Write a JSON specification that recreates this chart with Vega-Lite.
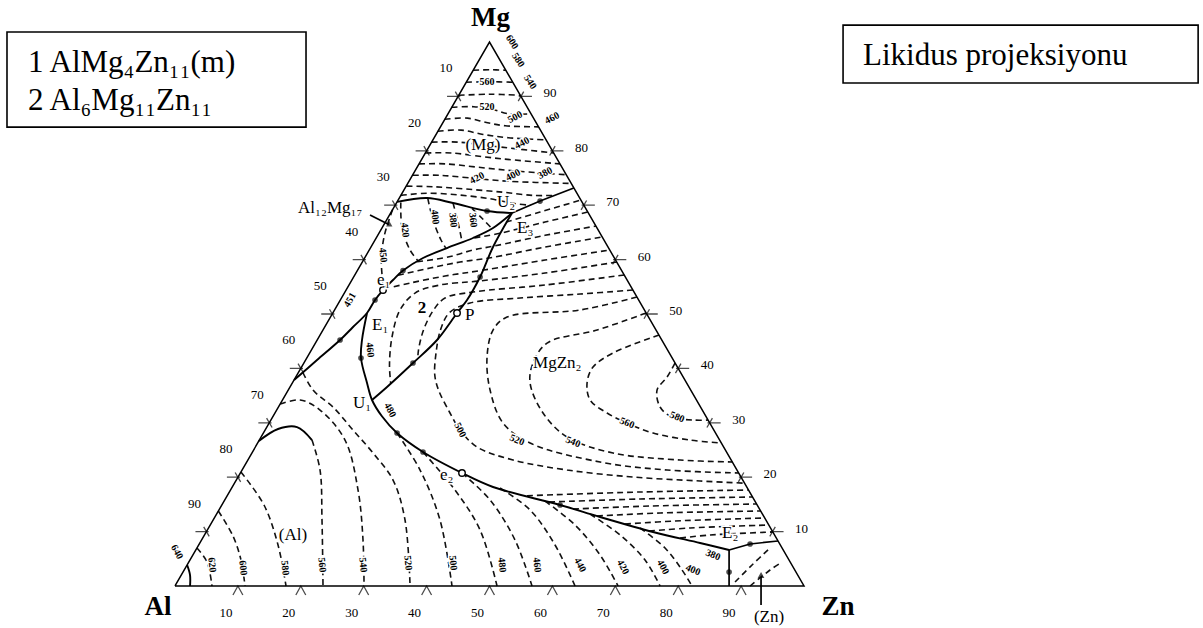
{
  "$schema": "https://vega.github.io/schema/vega-lite/v6.json",
  "width": 1203,
  "height": 628,
  "autosize": {"type": "fit", "contains": "padding"},
  "padding": 0,
  "background": "white",
  "config": {"view": {"stroke": null}, "text": {"font": "Liberation Serif", "color": "black"}},
  "encoding": {
    "x": {"field": "x", "type": "quantitative", "scale": {"domain": [-27.822, 163.434], "nice": false, "zero": false}, "axis": null},
    "y": {"field": "y", "type": "quantitative", "scale": {"domain": [-7.721, 107.721], "nice": false, "zero": false}, "axis": null}
  },
  "datasets": {
    "boxes": [
      {"x": -26.71, "x2": 20.83, "y": 101.83, "y2": 84.36},
      {"x": 106.21, "x2": 162.66, "y": 103.11, "y2": 92.45}
    ],
    "boxtext": [
      {"t": "1 AlMg₄Zn₁₁(m)", "x": -23.37, "y": 94.47},
      {"t": "2 Al₆Mg₁₁Zn₁₁", "x": -23.37, "y": 87.49},
      {"t": "Likidus projeksiyonu", "x": 109.39, "y": 95.76}
    ],
    "triangle": [
      {"i": 0, "x": 0, "y": 0}, {"i": 1, "x": 100, "y": 0}, {"i": 2, "x": 50, "y": 100}, {"i": 3, "x": 0, "y": 0}
    ],
    "vertices": [
      {"t": "Al", "x": 0, "y": 0, "p": "al"},
      {"t": "Zn", "x": 100, "y": 0, "p": "zn"},
      {"t": "Mg", "x": 50, "y": 100, "p": "mg"}
    ],
    "ticks": [
      {"s": "b", "t": "10", "x": 10, "y": 0}, {"s": "b", "t": "20", "x": 20, "y": 0}, {"s": "b", "t": "30", "x": 30, "y": 0},
      {"s": "b", "t": "40", "x": 40, "y": 0}, {"s": "b", "t": "50", "x": 50, "y": 0}, {"s": "b", "t": "60", "x": 60, "y": 0},
      {"s": "b", "t": "70", "x": 70, "y": 0}, {"s": "b", "t": "80", "x": 80, "y": 0}, {"s": "b", "t": "90", "x": 90, "y": 0},
      {"s": "l", "t": "10", "x": 45, "y": 90}, {"s": "l", "t": "20", "x": 40, "y": 80}, {"s": "l", "t": "30", "x": 35, "y": 70},
      {"s": "l", "t": "40", "x": 30, "y": 60}, {"s": "l", "t": "50", "x": 25, "y": 50}, {"s": "l", "t": "60", "x": 20, "y": 40},
      {"s": "l", "t": "70", "x": 15, "y": 30}, {"s": "l", "t": "80", "x": 10, "y": 20}, {"s": "l", "t": "90", "x": 5, "y": 10},
      {"s": "r", "t": "90", "x": 55, "y": 90}, {"s": "r", "t": "80", "x": 60, "y": 80}, {"s": "r", "t": "70", "x": 65, "y": 70},
      {"s": "r", "t": "60", "x": 70, "y": 60}, {"s": "r", "t": "50", "x": 75, "y": 50}, {"s": "r", "t": "40", "x": 80, "y": 40},
      {"s": "r", "t": "30", "x": 85, "y": 30}, {"s": "r", "t": "20", "x": 90, "y": 20}, {"s": "r", "t": "10", "x": 95, "y": 10}
    ],
    "solid": [
      {"c": "L1", "i": 0, "x": 35.3, "y": 70.6}, {"c": "L1", "i": 1, "x": 40.07, "y": 71.31}, {"c": "L1", "i": 2, "x": 44.2, "y": 70.4}, {"c": "L1", "i": 3, "x": 49.61, "y": 68.93}, {"c": "L1", "i": 4, "x": 53.58, "y": 68.56},
      {"c": "L3", "i": 0, "x": 53.58, "y": 68.56}, {"c": "L3", "i": 1, "x": 50.56, "y": 65.8}, {"c": "L3", "i": 2, "x": 47.38, "y": 63.97}, {"c": "L3", "i": 3, "x": 43.25, "y": 62.13}, {"c": "L3", "i": 4, "x": 39.43, "y": 60.29}, {"c": "L3", "i": 5, "x": 36.25, "y": 57.99}, {"c": "L3", "i": 6, "x": 34.66, "y": 56.24}, {"c": "L3", "i": 7, "x": 33.07, "y": 54.41}, {"c": "L3", "i": 8, "x": 31.8, "y": 52.57}, {"c": "L3", "i": 9, "x": 30.53, "y": 50.18}, {"c": "L3", "i": 10, "x": 28.3, "y": 47.61}, {"c": "L3", "i": 11, "x": 26.24, "y": 45.22}, {"c": "L3", "i": 12, "x": 22.58, "y": 41.54}, {"c": "L3", "i": 13, "x": 18.93, "y": 37.86},
      {"c": "L4", "i": 0, "x": 53.58, "y": 68.56}, {"c": "L4", "i": 1, "x": 50.56, "y": 62.31}, {"c": "L4", "i": 2, "x": 48.5, "y": 56.8}, {"c": "L4", "i": 3, "x": 46.43, "y": 52.57}, {"c": "L4", "i": 4, "x": 44.84, "y": 50.18}, {"c": "L4", "i": 5, "x": 41.66, "y": 45.22}, {"c": "L4", "i": 6, "x": 37.84, "y": 40.99}, {"c": "L4", "i": 7, "x": 33.71, "y": 36.58}, {"c": "L4", "i": 8, "x": 31.32, "y": 34.19},
      {"c": "L5", "i": 0, "x": 30.53, "y": 50.18}, {"c": "L5", "i": 1, "x": 29.73, "y": 45.22}, {"c": "L5", "i": 2, "x": 29.57, "y": 41.91}, {"c": "L5", "i": 3, "x": 30.53, "y": 37.31}, {"c": "L5", "i": 4, "x": 31.32, "y": 34.19}, {"c": "L5", "i": 5, "x": 32.9, "y": 31.2}, {"c": "L5", "i": 6, "x": 35.3, "y": 28.12}, {"c": "L5", "i": 7, "x": 39.43, "y": 24.63}, {"c": "L5", "i": 8, "x": 45.63, "y": 20.77}, {"c": "L5", "i": 9, "x": 50.56, "y": 18.2}, {"c": "L5", "i": 10, "x": 61.22, "y": 14.89}, {"c": "L5", "i": 11, "x": 67.58, "y": 12.68}, {"c": "L5", "i": 12, "x": 76.0, "y": 9.93}, {"c": "L5", "i": 13, "x": 83.48, "y": 7.9}, {"c": "L5", "i": 14, "x": 88.09, "y": 6.62},
      {"c": "Ac", "i": 0, "x": 1.93, "y": 3.86}, {"c": "Ac", "i": 1, "x": 2.39, "y": 2.02}, {"c": "Ac", "i": 2, "x": 2.39, "y": 0},
      {"c": "S560", "i": 0, "x": 13.33, "y": 26.65}, {"c": "S560", "i": 1, "x": 16.38, "y": 28.86}, {"c": "S560", "i": 2, "x": 19.4, "y": 29.22}, {"c": "S560", "i": 3, "x": 21.78, "y": 26.83}
    ],
    "straight": [
      {"c": "L2", "i": 0, "x": 53.58, "y": 68.56}, {"c": "L2", "i": 1, "x": 58.04, "y": 70.76}, {"c": "L2", "i": 2, "x": 63.4, "y": 73.15},
      {"c": "L6", "i": 0, "x": 88.09, "y": 6.62}, {"c": "L6", "i": 1, "x": 91.43, "y": 7.72}, {"c": "L6", "i": 2, "x": 95.86, "y": 8.27},
      {"c": "L7", "i": 0, "x": 88.09, "y": 6.62}, {"c": "L7", "i": 1, "x": 88.09, "y": 0},
      {"c": "arA", "i": 0, "x": 31.0, "y": 68.19}, {"c": "arA", "i": 1, "x": 34.0, "y": 66.45},
      {"c": "arZ", "i": 0, "x": 93.17, "y": -3.49}, {"c": "arZ", "i": 1, "x": 93.17, "y": 1.65}
    ],
    "heads": [
      {"k": "a", "x": 34.19, "y": 66.35},
      {"k": "z", "x": 93.17, "y": 2.02}
    ],
    "iso": [
      {"c": "R1", "i": 0, "x": 47.4, "y": 94.8}, {"c": "R1", "i": 1, "x": 50, "y": 94.9}, {"c": "R1", "i": 2, "x": 52.6, "y": 94.8},
      {"c": "R2", "i": 0, "x": 46.3, "y": 92.6}, {"c": "R2", "i": 1, "x": 50, "y": 92.7}, {"c": "R2", "i": 2, "x": 53.7, "y": 92.6},
      {"c": "R3", "i": 0, "x": 45.1, "y": 90.2}, {"c": "R3", "i": 1, "x": 50, "y": 90.4}, {"c": "R3", "i": 2, "x": 54.9, "y": 90.2},
      {"c": "R4", "i": 0, "x": 44.0, "y": 88.0}, {"c": "R4", "i": 1, "x": 47.5, "y": 88.1}, {"c": "R4", "i": 2, "x": 50.5, "y": 87.6}, {"c": "R4", "i": 3, "x": 53, "y": 86.8}, {"c": "R4", "i": 4, "x": 56.6, "y": 86.8},
      {"c": "R5", "i": 0, "x": 42.9, "y": 85.8}, {"c": "R5", "i": 1, "x": 46.5, "y": 86.0}, {"c": "R5", "i": 2, "x": 49.5, "y": 85.2}, {"c": "R5", "i": 3, "x": 52.5, "y": 84.6}, {"c": "R5", "i": 4, "x": 57.8, "y": 84.4},
      {"c": "R6", "i": 0, "x": 41.8, "y": 83.6}, {"c": "R6", "i": 1, "x": 45.5, "y": 83.8}, {"c": "R6", "i": 2, "x": 49, "y": 83.0}, {"c": "R6", "i": 3, "x": 53, "y": 82.4}, {"c": "R6", "i": 4, "x": 59.0, "y": 82.0},
      {"c": "R7", "i": 0, "x": 40.8, "y": 81.6}, {"c": "R7", "i": 1, "x": 45, "y": 81.6}, {"c": "R7", "i": 2, "x": 49.5, "y": 81.0}, {"c": "R7", "i": 3, "x": 54, "y": 80.4}, {"c": "R7", "i": 4, "x": 60.2, "y": 79.6},
      {"c": "R8", "i": 0, "x": 39.8, "y": 79.6}, {"c": "R8", "i": 1, "x": 44, "y": 79.6}, {"c": "R8", "i": 2, "x": 49, "y": 78.9}, {"c": "R8", "i": 3, "x": 54, "y": 78.3}, {"c": "R8", "i": 4, "x": 61.2, "y": 77.6},
      {"c": "R9", "i": 0, "x": 38.8, "y": 77.6}, {"c": "R9", "i": 1, "x": 43, "y": 77.6}, {"c": "R9", "i": 2, "x": 48, "y": 77.0}, {"c": "R9", "i": 3, "x": 54, "y": 76.3}, {"c": "R9", "i": 4, "x": 62.2, "y": 75.6},
      {"c": "R10", "i": 0, "x": 37.8, "y": 75.5}, {"c": "R10", "i": 1, "x": 42, "y": 75.5}, {"c": "R10", "i": 2, "x": 47, "y": 75.0}, {"c": "R10", "i": 3, "x": 53, "y": 74.4}, {"c": "R10", "i": 4, "x": 63.0, "y": 74.0},
      {"c": "R11", "i": 0, "x": 36.8, "y": 73.5}, {"c": "R11", "i": 1, "x": 41, "y": 73.4}, {"c": "R11", "i": 2, "x": 46, "y": 73.0}, {"c": "R11", "i": 3, "x": 52, "y": 72.4}, {"c": "R11", "i": 4, "x": 57, "y": 71.8}, {"c": "R11", "i": 5, "x": 60.3, "y": 71.8},
      {"c": "R12", "i": 0, "x": 35.9, "y": 71.8}, {"c": "R12", "i": 1, "x": 40, "y": 72.2}, {"c": "R12", "i": 2, "x": 45, "y": 71.9}, {"c": "R12", "i": 3, "x": 50, "y": 71.2}, {"c": "R12", "i": 4, "x": 54, "y": 70.3}, {"c": "R12", "i": 5, "x": 56.5, "y": 70.0},
      {"c": "B0", "i": 0, "x": 34.6, "y": 69.2}, {"c": "B0", "i": 1, "x": 33.3, "y": 64.5}, {"c": "B0", "i": 2, "x": 32.8, "y": 59.9}, {"c": "B0", "i": 3, "x": 33.07, "y": 55.5},
      {"c": "B1", "i": 0, "x": 35.9, "y": 70.5}, {"c": "B1", "i": 1, "x": 36.09, "y": 65.8}, {"c": "B1", "i": 2, "x": 37.37, "y": 61.76}, {"c": "B1", "i": 3, "x": 38.64, "y": 59.74},
      {"c": "B2", "i": 0, "x": 40.2, "y": 71.2}, {"c": "B2", "i": 1, "x": 41.02, "y": 67.27}, {"c": "B2", "i": 2, "x": 42.29, "y": 63.6}, {"c": "B2", "i": 3, "x": 43.09, "y": 62.05},
      {"c": "B3", "i": 0, "x": 44.2, "y": 70.4}, {"c": "B3", "i": 1, "x": 44.99, "y": 66.9}, {"c": "B3", "i": 2, "x": 45.63, "y": 63.3},
      {"c": "B4", "i": 0, "x": 47.22, "y": 69.4}, {"c": "B4", "i": 1, "x": 48.81, "y": 67.6}, {"c": "B4", "i": 2, "x": 50.4, "y": 65.7},
      {"c": "F360", "i": 0, "x": 52.63, "y": 66.9}, {"c": "F360", "i": 1, "x": 58.04, "y": 68.74}, {"c": "F360", "i": 2, "x": 64.53, "y": 70.95},
      {"c": "F380", "i": 0, "x": 47.6, "y": 64.0}, {"c": "F380", "i": 1, "x": 51.83, "y": 64.88}, {"c": "F380", "i": 2, "x": 58.83, "y": 66.9}, {"c": "F380", "i": 3, "x": 65.63, "y": 68.74},
      {"c": "F400", "i": 0, "x": 38.5, "y": 59.6}, {"c": "F400", "i": 1, "x": 43.41, "y": 60.47}, {"c": "F400", "i": 2, "x": 47.38, "y": 61.76}, {"c": "F400", "i": 3, "x": 50.72, "y": 62.49}, {"c": "F400", "i": 4, "x": 58.83, "y": 64.46}, {"c": "F400", "i": 5, "x": 66.92, "y": 66.17},
      {"c": "F420", "i": 0, "x": 35.46, "y": 57.12}, {"c": "F420", "i": 1, "x": 40.55, "y": 58.45}, {"c": "F420", "i": 2, "x": 45.32, "y": 59.55}, {"c": "F420", "i": 3, "x": 49.93, "y": 60.29}, {"c": "F420", "i": 4, "x": 58.83, "y": 62.31}, {"c": "F420", "i": 5, "x": 67.93, "y": 64.15},
      {"c": "F440", "i": 0, "x": 33.23, "y": 54.6}, {"c": "F440", "i": 1, "x": 37.37, "y": 55.69}, {"c": "F440", "i": 2, "x": 42.93, "y": 56.98}, {"c": "F440", "i": 3, "x": 49.13, "y": 58.08}, {"c": "F440", "i": 4, "x": 58.83, "y": 59.92}, {"c": "F440", "i": 5, "x": 69.12, "y": 61.76},
      {"c": "F460", "i": 0, "x": 70.23, "y": 59.55}, {"c": "F460", "i": 1, "x": 58.83, "y": 57.53}, {"c": "F460", "i": 2, "x": 48.34, "y": 56.06}, {"c": "F460", "i": 3, "x": 42.13, "y": 55.33}, {"c": "F460", "i": 4, "x": 38.16, "y": 53.85}, {"c": "F460", "i": 5, "x": 35.77, "y": 50.73}, {"c": "F460", "i": 6, "x": 34.5, "y": 45.77}, {"c": "F460", "i": 7, "x": 34.1, "y": 40.6}, {"c": "F460", "i": 8, "x": 34.3, "y": 37.2},
      {"c": "F480", "i": 0, "x": 71.42, "y": 57.17}, {"c": "F480", "i": 1, "x": 58.83, "y": 55.33}, {"c": "F480", "i": 2, "x": 47.38, "y": 54.04}, {"c": "F480", "i": 3, "x": 42.93, "y": 52.93}, {"c": "F480", "i": 4, "x": 41.1, "y": 50.73}, {"c": "F480", "i": 5, "x": 39.51, "y": 47.05}, {"c": "F480", "i": 6, "x": 38.71, "y": 43.38}, {"c": "F480", "i": 7, "x": 38.6, "y": 41.8},
      {"c": "I500", "i": 0, "x": 72.8, "y": 54.4}, {"c": "I500", "i": 1, "x": 64.4, "y": 53.67}, {"c": "I500", "i": 2, "x": 54.86, "y": 52.93}, {"c": "I500", "i": 3, "x": 46.91, "y": 52.02}, {"c": "I500", "i": 4, "x": 43.6, "y": 50.2}, {"c": "I500", "i": 5, "x": 42.2, "y": 47.05}, {"c": "I500", "i": 6, "x": 41.5, "y": 42.83}, {"c": "I500", "i": 7, "x": 41.3, "y": 38.78}, {"c": "I500", "i": 8, "x": 41.9, "y": 36.02}, {"c": "I500", "i": 9, "x": 43.72, "y": 31.8}, {"c": "I500", "i": 10, "x": 45.32, "y": 28.67}, {"c": "I500", "i": 11, "x": 48.02, "y": 25.55}, {"c": "I500", "i": 12, "x": 53.74, "y": 23.16}, {"c": "I500", "i": 13, "x": 62.33, "y": 21.32}, {"c": "I500", "i": 14, "x": 72.82, "y": 20.03}, {"c": "I500", "i": 15, "x": 83.48, "y": 19.3}, {"c": "I500", "i": 16, "x": 90.55, "y": 18.9},
      {"c": "I520", "i": 0, "x": 73.44, "y": 53.12}, {"c": "I520", "i": 1, "x": 64.4, "y": 50.73}, {"c": "I520", "i": 2, "x": 52.79, "y": 49.44}, {"c": "I520", "i": 3, "x": 50.56, "y": 47.05}, {"c": "I520", "i": 4, "x": 49.61, "y": 42.09}, {"c": "I520", "i": 5, "x": 50.09, "y": 36.02}, {"c": "I520", "i": 6, "x": 52.15, "y": 29.96}, {"c": "I520", "i": 7, "x": 56.45, "y": 26.28}, {"c": "I520", "i": 8, "x": 67.58, "y": 22.79}, {"c": "I520", "i": 9, "x": 78.23, "y": 21.32}, {"c": "I520", "i": 10, "x": 89.62, "y": 20.77},
      {"c": "I540", "i": 0, "x": 74.89, "y": 50.18}, {"c": "I540", "i": 1, "x": 67.1, "y": 47.05}, {"c": "I540", "i": 2, "x": 59.15, "y": 44.66}, {"c": "I540", "i": 3, "x": 56.92, "y": 40.99}, {"c": "I540", "i": 4, "x": 56.45, "y": 37.31}, {"c": "I540", "i": 5, "x": 58.51, "y": 31.8}, {"c": "I540", "i": 6, "x": 62.33, "y": 27.39}, {"c": "I540", "i": 7, "x": 69.64, "y": 24.45}, {"c": "I540", "i": 8, "x": 80.3, "y": 23.16}, {"c": "I540", "i": 9, "x": 88.6, "y": 22.79},
      {"c": "I560", "i": 0, "x": 76.96, "y": 46.13}, {"c": "I560", "i": 1, "x": 69.64, "y": 42.83}, {"c": "I560", "i": 2, "x": 66.46, "y": 40.25}, {"c": "I560", "i": 3, "x": 65.51, "y": 37.31}, {"c": "I560", "i": 4, "x": 65.99, "y": 34.19}, {"c": "I560", "i": 5, "x": 68.69, "y": 31.8}, {"c": "I560", "i": 6, "x": 71.87, "y": 29.96}, {"c": "I560", "i": 7, "x": 76.0, "y": 28.12}, {"c": "I560", "i": 8, "x": 81.89, "y": 26.83}, {"c": "I560", "i": 9, "x": 86.86, "y": 26.28},
      {"c": "I580", "i": 0, "x": 79.49, "y": 40.99}, {"c": "I580", "i": 1, "x": 78.23, "y": 38.42}, {"c": "I580", "i": 2, "x": 76.64, "y": 36.02}, {"c": "I580", "i": 3, "x": 77.12, "y": 32.9}, {"c": "I580", "i": 4, "x": 79.02, "y": 31.06}, {"c": "I580", "i": 5, "x": 82.36, "y": 30.51}, {"c": "I580", "i": 6, "x": 84.74, "y": 30.51},
      {"c": "LB480", "i": 0, "x": 55.97, "y": 16.6}, {"c": "LB480", "i": 1, "x": 73.94, "y": 17.28}, {"c": "LB480", "i": 2, "x": 91.18, "y": 17.64},
      {"c": "LB460", "i": 0, "x": 59.47, "y": 15.44}, {"c": "LB460", "i": 1, "x": 73.94, "y": 15.99}, {"c": "LB460", "i": 2, "x": 91.82, "y": 16.36},
      {"c": "LB440", "i": 0, "x": 63.28, "y": 14.15}, {"c": "LB440", "i": 1, "x": 75.52, "y": 14.7}, {"c": "LB440", "i": 2, "x": 92.46, "y": 15.07},
      {"c": "LB420", "i": 0, "x": 67.1, "y": 12.87}, {"c": "LB420", "i": 1, "x": 77.12, "y": 13.42}, {"c": "LB420", "i": 2, "x": 93.11, "y": 13.79},
      {"c": "LB400", "i": 0, "x": 71.55, "y": 11.4}, {"c": "LB400", "i": 1, "x": 79.5, "y": 11.95}, {"c": "LB400", "i": 2, "x": 93.75, "y": 12.5},
      {"c": "LB380", "i": 0, "x": 75.37, "y": 10.11}, {"c": "LB380", "i": 1, "x": 81.89, "y": 10.66}, {"c": "LB380", "i": 2, "x": 94.39, "y": 11.21},
      {"c": "LB360", "i": 0, "x": 80.3, "y": 8.82}, {"c": "LB360", "i": 1, "x": 85.07, "y": 9.37}, {"c": "LB360", "i": 2, "x": 95.04, "y": 9.93},
      {"c": "A620", "i": 0, "x": 3.49, "y": 6.98}, {"c": "A620", "i": 1, "x": 5.09, "y": 4.41}, {"c": "A620", "i": 2, "x": 5.88, "y": 0},
      {"c": "A600", "i": 0, "x": 6.89, "y": 13.79}, {"c": "A600", "i": 1, "x": 9.22, "y": 9.19}, {"c": "A600", "i": 2, "x": 10.49, "y": 4.78}, {"c": "A600", "i": 3, "x": 11.13, "y": 0},
      {"c": "A580", "i": 0, "x": 10.48, "y": 20.95}, {"c": "A580", "i": 1, "x": 14.15, "y": 14.89}, {"c": "A580", "i": 2, "x": 16.38, "y": 7.54}, {"c": "A580", "i": 3, "x": 17.65, "y": 0},
      {"c": "A560", "i": 0, "x": 21.78, "y": 26.83}, {"c": "A560", "i": 1, "x": 23.06, "y": 21.32}, {"c": "A560", "i": 2, "x": 23.37, "y": 12.13}, {"c": "A560", "i": 3, "x": 23.53, "y": 0},
      {"c": "A540", "i": 0, "x": 16.73, "y": 33.45}, {"c": "A540", "i": 1, "x": 19.88, "y": 34.19}, {"c": "A540", "i": 2, "x": 23.06, "y": 32.35}, {"c": "A540", "i": 3, "x": 27.03, "y": 26.83}, {"c": "A540", "i": 4, "x": 29.1, "y": 17.64}, {"c": "A540", "i": 5, "x": 29.89, "y": 8.45}, {"c": "A540", "i": 6, "x": 30.05, "y": 0},
      {"c": "A520", "i": 0, "x": 20.35, "y": 39.2}, {"c": "A520", "i": 1, "x": 21.94, "y": 36.02}, {"c": "A520", "i": 2, "x": 25.12, "y": 32.9}, {"c": "A520", "i": 3, "x": 28.3, "y": 28.67}, {"c": "A520", "i": 4, "x": 31.48, "y": 24.45}, {"c": "A520", "i": 5, "x": 34.66, "y": 19.48}, {"c": "A520", "i": 6, "x": 36.57, "y": 12.13}, {"c": "A520", "i": 7, "x": 37.37, "y": 0},
      {"c": "A500", "i": 0, "x": 35.3, "y": 28.12}, {"c": "A500", "i": 1, "x": 38.96, "y": 21.32}, {"c": "A500", "i": 2, "x": 42.13, "y": 12.13}, {"c": "A500", "i": 3, "x": 44.04, "y": 0},
      {"c": "A480", "i": 0, "x": 39.43, "y": 24.63}, {"c": "A480", "i": 1, "x": 44.52, "y": 17.64}, {"c": "A480", "i": 2, "x": 48.5, "y": 10.29}, {"c": "A480", "i": 3, "x": 51.2, "y": 0},
      {"c": "A460", "i": 0, "x": 45.63, "y": 20.77}, {"c": "A460", "i": 1, "x": 50.09, "y": 15.81}, {"c": "A460", "i": 2, "x": 54.06, "y": 8.45}, {"c": "A460", "i": 3, "x": 56.76, "y": 0},
      {"c": "A440", "i": 0, "x": 51.68, "y": 18.01}, {"c": "A440", "i": 1, "x": 56.45, "y": 13.97}, {"c": "A440", "i": 2, "x": 60.42, "y": 7.54}, {"c": "A440", "i": 3, "x": 63.6, "y": 0},
      {"c": "A420", "i": 0, "x": 58.83, "y": 15.62}, {"c": "A420", "i": 1, "x": 63.6, "y": 11.21}, {"c": "A420", "i": 2, "x": 67.58, "y": 5.7}, {"c": "A420", "i": 3, "x": 70.44, "y": 0},
      {"c": "A400", "i": 0, "x": 65.99, "y": 13.23}, {"c": "A400", "i": 1, "x": 70.76, "y": 9.37}, {"c": "A400", "i": 2, "x": 74.73, "y": 4.78}, {"c": "A400", "i": 3, "x": 77.12, "y": 0},
      {"c": "A380", "i": 0, "x": 73.94, "y": 10.66}, {"c": "A380", "i": 1, "x": 77.91, "y": 6.98}, {"c": "A380", "i": 2, "x": 80.61, "y": 2.94}, {"c": "A380", "i": 3, "x": 82.2, "y": 0},
      {"c": "Z1", "i": 0, "x": 89.04, "y": 0.74}, {"c": "Z1", "i": 1, "x": 91.74, "y": 3.86}, {"c": "Z1", "i": 2, "x": 94.6, "y": 6.98},
      {"c": "Z2", "i": 0, "x": 91.43, "y": 0}, {"c": "Z2", "i": 1, "x": 94.6, "y": 2.94}, {"c": "Z2", "i": 2, "x": 96.5, "y": 4.41}
    ],
    "dots": [
      {"x": 49.61, "y": 68.93}, {"x": 58.04, "y": 70.76}, {"x": 36.25, "y": 57.99}, {"x": 31.8, "y": 52.57}, {"x": 26.24, "y": 45.22},
      {"x": 48.5, "y": 56.8}, {"x": 37.84, "y": 40.99}, {"x": 29.57, "y": 41.91}, {"x": 35.3, "y": 28.12}, {"x": 39.43, "y": 24.63},
      {"x": 61.22, "y": 14.89}, {"x": 91.43, "y": 7.72}, {"x": 88.09, "y": 2.57}
    ],
    "rings": [
      {"x": 33.07, "y": 54.41}, {"x": 44.84, "y": 50.18}, {"x": 45.63, "y": 20.77}
    ],
    "names": [
      {"t": "U₂", "x": 51.2, "y": 69.66}, {"t": "E₃", "x": 54.38, "y": 64.88}, {"t": "e₁", "x": 32.12, "y": 55.32},
      {"t": "E₁", "x": 31.32, "y": 47.05}, {"t": "U₁", "x": 28.3, "y": 32.72}, {"t": "MgZn₂", "x": 56.92, "y": 40.07},
      {"t": "e₂", "x": 42.13, "y": 19.48}, {"t": "E₂", "x": 86.97, "y": 8.82}, {"t": "Al₁₂Mg₁₇", "x": 19.56, "y": 68.56},
      {"t": "P", "x": 46.11, "y": 48.89}
    ],
    "fields": [
      {"t": "(Mg)", "x": 48.97, "y": 81.1}, {"t": "(Al)", "x": 18.76, "y": 9.37}, {"t": "(Zn)", "x": 94.44, "y": -5.7}
    ],
    "nums": [
      {"g": "h", "t": "560", "x": 49.61, "y": 92.64}, {"g": "h", "t": "520", "x": 49.61, "y": 88.04},
      {"g": "u", "t": "500", "x": 54.06, "y": 86.2}, {"g": "u", "t": "460", "x": 59.94, "y": 86.02}, {"g": "u", "t": "440", "x": 55.17, "y": 81.42},
      {"g": "u", "t": "420", "x": 48.02, "y": 74.99}, {"g": "u", "t": "400", "x": 53.74, "y": 75.54}, {"g": "u", "t": "380", "x": 58.83, "y": 75.91},
      {"g": "e", "t": "600", "x": 53.58, "y": 99.99}, {"g": "e", "t": "580", "x": 54.54, "y": 96.68}, {"g": "e", "t": "540", "x": 56.45, "y": 92.64},
      {"g": "v", "t": "420", "x": 36.57, "y": 65.43}, {"g": "v", "t": "400", "x": 41.34, "y": 67.82}, {"g": "v", "t": "380", "x": 44.2, "y": 67.27},
      {"g": "v", "t": "360", "x": 47.38, "y": 67.27}, {"g": "v", "t": "450", "x": 33.07, "y": 60.84}, {"g": "v", "t": "460", "x": 31.0, "y": 43.38},
      {"g": "v", "t": "620", "x": 5.88, "y": 3.86}, {"g": "v", "t": "600", "x": 10.81, "y": 3.31}, {"g": "v", "t": "580", "x": 17.49, "y": 3.31},
      {"g": "v", "t": "560", "x": 23.37, "y": 3.86}, {"g": "v", "t": "540", "x": 29.89, "y": 3.86}, {"g": "v", "t": "520", "x": 37.05, "y": 4.23},
      {"g": "v", "t": "500", "x": 44.2, "y": 4.23}, {"g": "v", "t": "480", "x": 51.99, "y": 3.86}, {"g": "v", "t": "460", "x": 57.56, "y": 3.86},
      {"g": "t", "t": "480", "x": 34.19, "y": 32.35}, {"g": "t", "t": "500", "x": 45.32, "y": 28.67}, {"g": "t", "t": "640", "x": 0.32, "y": 6.25},
      {"g": "t", "t": "440", "x": 64.4, "y": 3.86}, {"g": "t", "t": "420", "x": 71.23, "y": 3.49}, {"g": "t", "t": "400", "x": 77.59, "y": 3.49},
      {"g": "f", "t": "580", "x": 79.82, "y": 31.06}, {"g": "f", "t": "560", "x": 71.87, "y": 29.96}, {"g": "f", "t": "540", "x": 63.28, "y": 26.47},
      {"g": "f", "t": "520", "x": 54.38, "y": 26.83}, {"g": "f", "t": "380", "x": 85.54, "y": 5.7}, {"g": "f", "t": "400", "x": 82.36, "y": 2.94},
      {"g": "s", "t": "451", "x": 27.82, "y": 52.57}
    ]
  },
  "layer": [
    {"data": {"name": "boxes"}, "mark": {"type": "rect", "fill": "white", "stroke": "black", "strokeWidth": 1.6}, "encoding": {"x2": {"field": "x2"}, "y2": {"field": "y2"}}},
    {"data": {"name": "boxtext"}, "mark": {"type": "text", "font": "Liberation Serif", "align": "left", "baseline": "alphabetic", "fontSize": 31}, "encoding": {"text": {"field": "t"}}},
    {"data": {"name": "iso"}, "mark": {"type": "line", "interpolate": "catmull-rom", "stroke": "#111111", "strokeWidth": 1.6, "strokeDash": [6, 4]}, "encoding": {"detail": {"field": "c"}, "order": {"field": "i"}}},
    {"data": {"name": "triangle"}, "mark": {"type": "line", "stroke": "black", "strokeWidth": 1.5}, "encoding": {"order": {"field": "i"}}},
    {"data": {"name": "solid"}, "mark": {"type": "line", "interpolate": "catmull-rom", "stroke": "black", "strokeWidth": 1.9}, "encoding": {"detail": {"field": "c"}, "order": {"field": "i"}}},
    {"data": {"name": "straight"}, "mark": {"type": "line", "stroke": "black", "strokeWidth": 1.7}, "encoding": {"detail": {"field": "c"}, "order": {"field": "i"}}},
    {"data": {"name": "heads"}, "transform": [{"filter": "datum.k === 'a'"}], "mark": {"type": "point", "shape": "triangle-right", "angle": 30, "filled": true, "color": "black", "size": 40}},
    {"data": {"name": "heads"}, "transform": [{"filter": "datum.k === 'z'"}], "mark": {"type": "point", "shape": "triangle-up", "filled": true, "color": "black", "size": 45}},
    {"data": {"name": "dots"}, "mark": {"type": "point", "shape": "circle", "filled": true, "color": "black", "size": 32}},
    {"data": {"name": "rings"}, "mark": {"type": "point", "shape": "circle", "filled": false, "fill": "white", "fillOpacity": 1, "stroke": "black", "strokeWidth": 1.4, "size": 42}},
    {"data": {"name": "ticks"}, "transform": [{"filter": "datum.s === 'b'"}], "mark": {"type": "point", "shape": "M-0.55,1L0,0L0.55,1", "filled": false, "stroke": "black", "strokeWidth": 1.3, "size": 324}},
    {"data": {"name": "ticks"}, "transform": [{"filter": "datum.s === 'l'"}], "mark": {"type": "point", "shape": "M-1,0L0.2,0M-0.25,-0.43L0.25,0.43", "filled": false, "stroke": "black", "strokeWidth": 1.3, "size": 484}},
    {"data": {"name": "ticks"}, "transform": [{"filter": "datum.s === 'r'"}], "mark": {"type": "point", "shape": "M-0.2,0L1,0M-0.25,0.43L0.25,-0.43", "filled": false, "stroke": "black", "strokeWidth": 1.3, "size": 484}},
    {"data": {"name": "ticks"}, "transform": [{"filter": "datum.s === 'b'"}], "mark": {"type": "text", "font": "Liberation Serif", "fontSize": 13, "dx": -12, "dy": 27, "baseline": "middle"}, "encoding": {"text": {"field": "t"}}},
    {"data": {"name": "ticks"}, "transform": [{"filter": "datum.s === 'l'"}], "mark": {"type": "text", "font": "Liberation Serif", "fontSize": 13, "dx": -12, "dy": -28, "baseline": "middle"}, "encoding": {"text": {"field": "t"}}},
    {"data": {"name": "ticks"}, "transform": [{"filter": "datum.s === 'r'"}], "mark": {"type": "text", "font": "Liberation Serif", "fontSize": 13, "dx": 29, "dy": -3, "baseline": "middle"}, "encoding": {"text": {"field": "t"}}},
    {"data": {"name": "vertices"}, "transform": [{"filter": "datum.p === 'al'"}], "mark": {"type": "text", "font": "Liberation Serif", "fontSize": 27, "fontWeight": "bold", "dx": -17, "dy": 29, "baseline": "alphabetic"}, "encoding": {"text": {"field": "t"}}},
    {"data": {"name": "vertices"}, "transform": [{"filter": "datum.p === 'zn'"}], "mark": {"type": "text", "font": "Liberation Serif", "fontSize": 27, "fontWeight": "bold", "dx": 34, "dy": 29, "baseline": "alphabetic"}, "encoding": {"text": {"field": "t"}}},
    {"data": {"name": "vertices"}, "transform": [{"filter": "datum.p === 'mg'"}], "mark": {"type": "text", "font": "Liberation Serif", "fontSize": 27, "fontWeight": "bold", "dx": 1, "dy": -16, "baseline": "alphabetic"}, "encoding": {"text": {"field": "t"}}},
    {"data": {"name": "names"}, "mark": {"type": "text", "font": "Liberation Serif", "align": "left", "baseline": "alphabetic", "fontSize": 17, "stroke": "white", "strokeWidth": 3}, "encoding": {"text": {"field": "t"}}},
    {"data": {"name": "names"}, "mark": {"type": "text", "font": "Liberation Serif", "align": "left", "baseline": "alphabetic", "fontSize": 17}, "encoding": {"text": {"field": "t"}}},
    {"data": {"name": "fields"}, "mark": {"type": "text", "font": "Liberation Serif", "baseline": "middle", "fontSize": 17, "stroke": "white", "strokeWidth": 3}, "encoding": {"text": {"field": "t"}}},
    {"data": {"name": "fields"}, "mark": {"type": "text", "font": "Liberation Serif", "baseline": "middle", "fontSize": 17}, "encoding": {"text": {"field": "t"}}},
    {"data": {"values": [{"t": "2", "x": 39.27, "y": 50.18}]}, "mark": {"type": "text", "font": "Liberation Serif", "baseline": "alphabetic", "fontSize": 17, "fontWeight": "bold"}, "encoding": {"text": {"field": "t"}}},
    {"data": {"name": "nums"}, "transform": [{"filter": "datum.g === 'h'"}], "layer": [
      {"mark": {"type": "text", "font": "Liberation Serif", "fontWeight": "bold", "fontSize": 10, "baseline": "middle", "angle": 0, "stroke": "white", "strokeWidth": 3}, "encoding": {"text": {"field": "t"}}},
      {"mark": {"type": "text", "font": "Liberation Serif", "fontWeight": "bold", "fontSize": 10, "baseline": "middle", "angle": 0}, "encoding": {"text": {"field": "t"}}}
    ]},
    {"data": {"name": "nums"}, "transform": [{"filter": "datum.g === 'u'"}], "layer": [
      {"mark": {"type": "text", "font": "Liberation Serif", "fontWeight": "bold", "fontSize": 10, "baseline": "middle", "angle": 332, "stroke": "white", "strokeWidth": 3}, "encoding": {"text": {"field": "t"}}},
      {"mark": {"type": "text", "font": "Liberation Serif", "fontWeight": "bold", "fontSize": 10, "baseline": "middle", "angle": 332}, "encoding": {"text": {"field": "t"}}}
    ]},
    {"data": {"name": "nums"}, "transform": [{"filter": "datum.g === 'e'"}], "layer": [
      {"mark": {"type": "text", "font": "Liberation Serif", "fontWeight": "bold", "fontSize": 10, "baseline": "middle", "angle": 57, "stroke": "white", "strokeWidth": 3}, "encoding": {"text": {"field": "t"}}},
      {"mark": {"type": "text", "font": "Liberation Serif", "fontWeight": "bold", "fontSize": 10, "baseline": "middle", "angle": 57}, "encoding": {"text": {"field": "t"}}}
    ]},
    {"data": {"name": "nums"}, "transform": [{"filter": "datum.g === 'v'"}], "layer": [
      {"mark": {"type": "text", "font": "Liberation Serif", "fontWeight": "bold", "fontSize": 10, "baseline": "middle", "angle": 84, "stroke": "white", "strokeWidth": 3}, "encoding": {"text": {"field": "t"}}},
      {"mark": {"type": "text", "font": "Liberation Serif", "fontWeight": "bold", "fontSize": 10, "baseline": "middle", "angle": 84}, "encoding": {"text": {"field": "t"}}}
    ]},
    {"data": {"name": "nums"}, "transform": [{"filter": "datum.g === 't'"}], "layer": [
      {"mark": {"type": "text", "font": "Liberation Serif", "fontWeight": "bold", "fontSize": 10, "baseline": "middle", "angle": 62, "stroke": "white", "strokeWidth": 3}, "encoding": {"text": {"field": "t"}}},
      {"mark": {"type": "text", "font": "Liberation Serif", "fontWeight": "bold", "fontSize": 10, "baseline": "middle", "angle": 62}, "encoding": {"text": {"field": "t"}}}
    ]},
    {"data": {"name": "nums"}, "transform": [{"filter": "datum.g === 'f'"}], "layer": [
      {"mark": {"type": "text", "font": "Liberation Serif", "fontWeight": "bold", "fontSize": 10, "baseline": "middle", "angle": 22, "stroke": "white", "strokeWidth": 3}, "encoding": {"text": {"field": "t"}}},
      {"mark": {"type": "text", "font": "Liberation Serif", "fontWeight": "bold", "fontSize": 10, "baseline": "middle", "angle": 22}, "encoding": {"text": {"field": "t"}}}
    ]},
    {"data": {"name": "nums"}, "transform": [{"filter": "datum.g === 's'"}], "layer": [
      {"mark": {"type": "text", "font": "Liberation Serif", "fontWeight": "bold", "fontSize": 10, "baseline": "middle", "angle": 300, "stroke": "white", "strokeWidth": 3}, "encoding": {"text": {"field": "t"}}},
      {"mark": {"type": "text", "font": "Liberation Serif", "fontWeight": "bold", "fontSize": 10, "baseline": "middle", "angle": 300}, "encoding": {"text": {"field": "t"}}}
    ]}
  ]
}
